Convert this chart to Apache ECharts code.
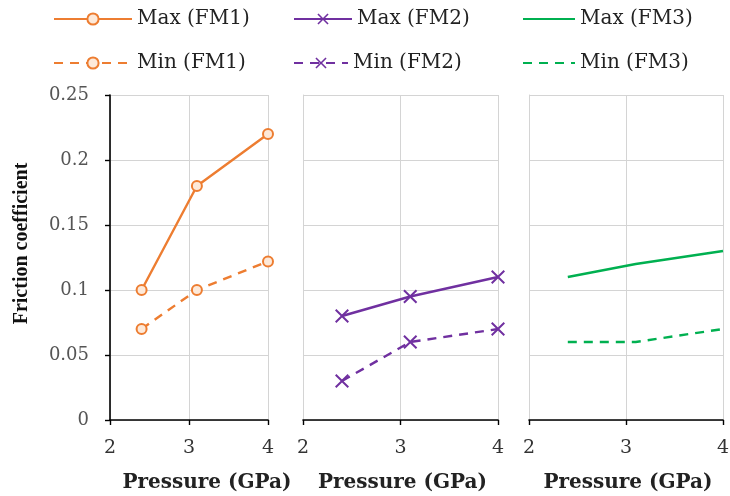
<!DOCTYPE html>
<html>
<head>
<meta charset="utf-8">
<script src="https://cdn.jsdelivr.net/npm/echarts@6/dist/echarts.min.js"></script>
<style>
  html, body { margin: 0; padding: 0; background: #fff; }
  #chart { width: 730px; height: 496px; }
</style>
</head>
<body>
<div id="chart"></div>
<script>
// pressure (GPa) of the three test points
var pressures = [2.4, 3.1, 4];
// friction coefficients
var fm1Max = [0.10, 0.18, 0.22];
var fm1Min = [0.07, 0.10, 0.122];
var fm2Max = [0.08, 0.095, 0.11];
var fm2Min = [0.03, 0.06, 0.07];
var fm3Max = [0.11, 0.12, 0.13];
var fm3Min = [0.06, 0.06, 0.07];
var xTicks = [2, 3, 4];
var yTicks = [0, 0.05, 0.1, 0.15, 0.2, 0.25];

var ORANGE = '#ED7D31', PURPLE = '#7030A0', GREEN = '#00B050';
var SERIF = '"DejaVu Serif", "Liberation Serif", serif';
var crossPath = 'path://M1,0L5,4L9,0L10,1L6,5L10,9L9,10L5,6L1,10L0,9L4,5L0,1Z';

function pts(vals){
    return pressures.map(function(p, i){ return [p, vals[i]]; });
}

var chart = echarts.init(document.getElementById('chart'));

var panels = [
    {left: 110, width: 158},
    {left: 303, width: 195},
    {left: 529, width: 194}
];

var grids = [], xAxes = [], yAxes = [];
panels.forEach(function(p, i){
    grids.push({left: p.left, width: p.width, top: 95, height: 325,
        containLabel: false, outerBoundsMode: 'none'});
    xAxes.push({
        type: 'value', gridIndex: i,
        min: xTicks[0], max: xTicks[xTicks.length - 1], interval: 1,
        axisLine: {show: true, onZero: false, lineStyle: {color: '#000', width: 1.6}},
        axisTick: {show: true, length: 5, lineStyle: {color: '#000', width: 1.4}},
        axisLabel: {color: '#333', fontFamily: SERIF, fontSize: 19, margin: 19},
        splitLine: {show: true, lineStyle: {color: '#d4d4d4', width: 1}},
        name: 'Pressure (GPa)', nameLocation: 'middle', nameGap: 53,
        nameTextStyle: {
            color: '#222', fontFamily: SERIF, fontWeight: 'bold', fontSize: 20,
            padding: i === 0 ? [0, 0, 0, 36] : [0, 0, 0, 4]
        }
    });
    yAxes.push({
        type: 'value', gridIndex: i,
        min: yTicks[0], max: yTicks[yTicks.length - 1], interval: 0.05,
        axisLine: {show: true, lineStyle: {color: i === 0 ? '#000' : '#d4d4d4', width: i === 0 ? 1.6 : 1}},
        axisTick: {show: i === 0, length: 5, lineStyle: {color: '#000', width: 1.4}},
        axisLabel: {show: i === 0, color: '#555', fontFamily: SERIF, fontSize: 18, margin: 21},
        splitLine: {show: true, lineStyle: {color: '#d4d4d4', width: 1}},
        name: i === 0 ? 'Friction coefficient' : '',
        nameLocation: 'middle', nameGap: 78,
        nameTextStyle: {
            color: '#111', fontFamily: '"Liberation Serif", serif', fontWeight: 'bold', fontSize: 20,
            padding: [0, 0, 0, 28]
        }
    });
});

function lineSeries(name, idx, vals, color, dashed, symbol, size, fill){
    return {
        name: name, type: 'line',
        xAxisIndex: idx, yAxisIndex: idx,
        data: pts(vals),
        symbol: symbol, symbolSize: size, showSymbol: size > 0,
        lineStyle: {color: color, width: 2.4, type: dashed ? [9, 7] : 'solid'},
        itemStyle: {color: fill, borderColor: color, borderWidth: symbol === 'circle' ? 2 : 0},
        z: 3
    };
}

var series = [
    lineSeries('Max (FM1)', 0, fm1Max, ORANGE, false, 'circle', 10, '#fde9d9'),
    lineSeries('Min (FM1)', 0, fm1Min, ORANGE, true, 'circle', 10, '#fde9d9'),
    lineSeries('Max (FM2)', 1, fm2Max, PURPLE, false, crossPath, 14, PURPLE),
    lineSeries('Min (FM2)', 1, fm2Min, PURPLE, true, crossPath, 14, PURPLE),
    lineSeries('Max (FM3)', 2, fm3Max, GREEN, false, 'none', 0, GREEN),
    lineSeries('Min (FM3)', 2, fm3Min, GREEN, true, 'none', 0, GREEN)
];

var legendSpots = [
    {name: 'Max (FM1)', left: 53, top: 9, w: 78, mark: true},
    {name: 'Max (FM2)', left: 293, top: 9, w: 58, mark: true},
    {name: 'Max (FM3)', left: 522, top: 9, w: 52, mark: false},
    {name: 'Min (FM1)', left: 53, top: 53, w: 78, mark: true},
    {name: 'Min (FM2)', left: 293, top: 53, w: 54, mark: true},
    {name: 'Min (FM3)', left: 522, top: 53, w: 52, mark: false}
];
var legends = legendSpots.map(function(l){
    var lg = {
        data: [l.name], left: l.left, top: l.top,
        itemWidth: l.w, itemHeight: 14, padding: 0,
        selectedMode: false,
        textStyle: {color: '#222', fontFamily: SERIF, fontSize: 20}
    };
    if (!l.mark) lg.itemStyle = {opacity: 0};
    return lg;
});

chart.setOption({
    animation: false,
    backgroundColor: '#fff',
    legend: legends,
    grid: grids,
    xAxis: xAxes,
    yAxis: yAxes,
    series: series
});
</script>
</body>
</html>
